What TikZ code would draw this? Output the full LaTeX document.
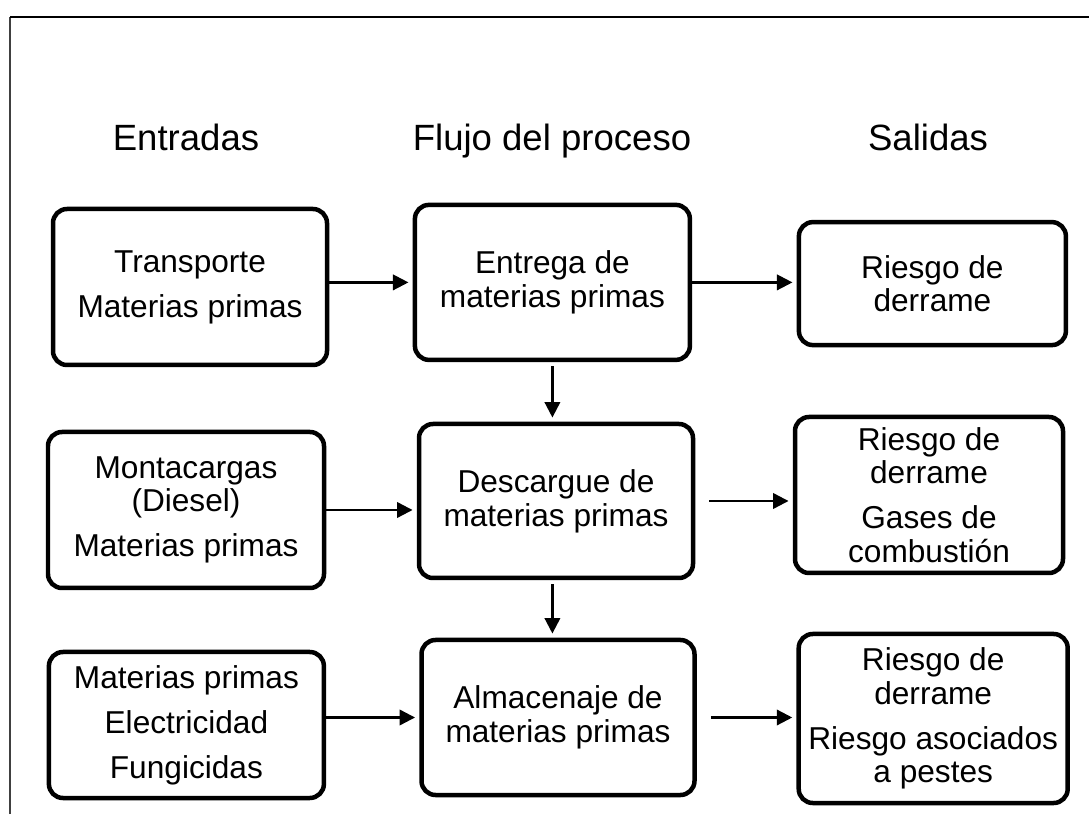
\documentclass[tikz,border=0pt]{standalone}
\usepackage{fontspec}
\setmainfont{Liberation Sans}
\usetikzlibrary{arrows.meta}
\usetikzlibrary{calc}

\tikzset{
  stage/.style={draw, line width=3.2pt, rounded corners=10pt, fill=white,
    align=center, inner sep=2pt, font=\fontsize{22.5}{24}\selectfont},
  flow/.style={-{Triangle[length=11pt,width=11pt]}, line width=1.6pt, shorten >=3pt},
  heading/.style={anchor=base, font=\fontsize{26}{30}\selectfont}
}

\begin{document}
\begin{tikzpicture}
            \useasboundingbox (0,0) rectangle (27.225,20.35);

            % Frame
            \draw[line width=1.2pt, black!75] (0.25,0) -- (0.25,19.925);
            \draw[line width=2pt] (0.25,19.925) -- (27.225,19.925);

            % Column headings
            \node[heading] (inhead) at (4.65,16.575) {Entradas};
            \node[heading] (prochead) at (13.8,16.575) {Flujo del proceso};
            \node[heading] (outhead) at (23.2,16.575) {Salidas};

            % Inputs
            \node[stage, minimum width=6.85cm, minimum height=3.9cm] (in1) at (4.75,13.175)
                {Transporte\\[8pt]Materias primas};
            \node[stage, minimum width=6.9cm, minimum height=3.9cm] (in2) at (4.65,7.6)
                {Montacargas\\(Diesel)\\[8pt]Materias primas};
            \node[stage, minimum width=6.875cm, minimum height=3.65cm] (in3) at (4.66,2.225)
                {Materias primas\\[8pt]Electricidad\\[8pt]Fungicidas};

            % Process
            \node[stage, minimum width=6.875cm, minimum height=3.875cm] (proc1) at (13.81,13.29)
                {Entrega de\\materias primas};
            \node[stage, minimum width=6.85cm, minimum height=3.85cm] (proc2) at (13.9,7.825)
                {Descargue de\\materias primas};
            \node[stage, minimum width=6.825cm, minimum height=3.875cm] (proc3) at (13.95,2.4125)
                {Almacenaje de\\materias primas};

            % Outputs
            \node[stage, minimum width=6.675cm, minimum height=3.075cm] (out1) at (23.31,13.26)
                {Riesgo de\\derrame};
            \node[stage, minimum width=6.7cm, minimum height=3.9cm] (out2) at (23.225,7.975)
                {Riesgo de\\derrame\\[8pt]Gases de\\combusti\'on};
            \node[stage, minimum width=6.725cm, minimum height=4.225cm] (out3) at (23.33,2.3875)
                {Riesgo de\\derrame\\[8pt]Riesgo asociados\\a pestes};

            % Arrows
            \draw[flow] (in1.east |- proc1.west) -- (proc1.west);
            \draw[flow] (proc1.east) -- (proc1.east -| out1.west);
            \draw[flow] (in2.east) -- (in2.east -| proc2.west);
            \draw[flow, shorten <=10pt] (proc2.east) -- (proc2.east -| out2.west);
            \draw[flow] (in3.east |- proc3.west) -- (proc3.west);
            \draw[flow, shorten <=10pt] (proc3.east) -- (proc3.east -| out3.west);
            \draw[flow, shorten <=3pt] (proc1.south) -- (proc1.south |- proc2.north);
            \draw[flow, shorten <=3pt] (proc1.south |- proc2.south) -- (proc1.south |- proc3.north);
        \end{tikzpicture}
\end{document}
